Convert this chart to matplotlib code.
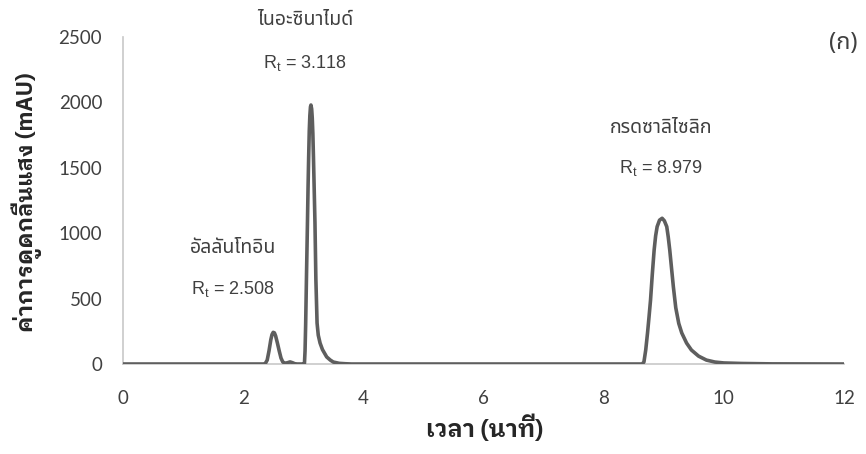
import matplotlib
matplotlib.use("Agg")
import matplotlib.pyplot as plt

# ---- data ----
time_min = [0.00, 2.35, 2.37, 2.40, 2.43, 2.46, 2.48, 2.50, 2.52, 2.54, 2.57, 2.60,
            2.63, 2.66, 2.70, 2.74, 2.78, 2.82, 2.86, 2.90,
            3.00, 3.02, 3.03, 3.04, 3.055, 3.07, 3.08, 3.09, 3.10, 3.11, 3.12, 3.128,
            3.14, 3.15, 3.16, 3.17, 3.18, 3.195, 3.21, 3.23, 3.25, 3.28, 3.32, 3.39,
            3.45, 3.50, 3.60, 3.70, 3.80,
            8.60, 8.64, 8.67, 8.70, 8.73, 8.755, 8.78, 8.81, 8.84, 8.865, 8.89, 8.93,
            8.973, 9.01, 9.05, 9.075, 9.10, 9.13, 9.16, 9.20, 9.25, 9.30, 9.38, 9.46,
            9.58, 9.71, 9.85, 10.00, 10.30, 10.80, 12.00]
absorb_mAU = [0, 0, 5, 30, 100, 185, 225, 242, 238, 215, 160, 100,
              45, 15, 6, 10, 16, 10, 2, 0,
              0, 5, 100, 300, 700, 1080, 1350, 1580, 1780, 1900, 1965, 1980,
              1950, 1880, 1760, 1580, 1380, 1080, 650, 313, 220, 160, 110, 54,
              30, 15, 5, 2, 0,
              0, 0, 15, 107, 237, 360, 489, 690, 871, 980, 1050, 1100,
              1114, 1095, 1050, 970, 871, 730, 590, 430, 310, 237, 160, 107,
              60, 30, 15, 8, 4, 1, 0]

compounds = ["อัลลันโทอิน", "ไนอะซินาไมด์", "กรดซาลิไซลิก"]
rt_values = ["2.508", "3.118", "8.979"]
label_x = [1.83, 3.03, 8.95]
label_y = [890, 2630, 1805]
rt_y = [575, 2300, 1500]

x_ticks = [0, 2, 4, 6, 8, 10, 12]
y_ticks = [0, 500, 1000, 1500, 2000, 2500]
x_title = "เวลา (นาที)"
y_title = "ค่าการดูดกลืนแสง (mAU)"
panel_label = "(ก)"

plt.rcParams['mathtext.fontset'] = 'custom'
plt.rcParams['mathtext.rm'] = 'Liberation Sans'

thai_loopless = ['Noto Sans Thai', 'Liberation Sans', 'DejaVu Sans']
thai_looped = ['IBM Plex Sans Thai Looped', 'Sarabun', 'DejaVu Sans']
tick_font = ['Lato', 'DejaVu Sans']

W, H = 866, 454
fig = plt.figure(figsize=(W / 100, H / 100), dpi=100)
ax = fig.add_axes([123 / W, 1 - 364 / H, (844 - 123) / W, (364 - 37) / H])

ax.plot(time_min, absorb_mAU, color='#5e5e5e', lw=2.6, solid_joinstyle='round',
        solid_capstyle='round', zorder=3)

ax.set_xlim(0, 12)
ax.set_ylim(0, 2500)
ax.set_xticks(x_ticks)
ax.set_yticks(y_ticks)
ax.set_xticklabels([str(v) for v in x_ticks], family=tick_font, fontsize=13.5, color='#404040')
ax.set_yticklabels([str(v) for v in y_ticks], family=tick_font, fontsize=13.5, color='#404040')
ax.tick_params(axis='both', length=0)
ax.tick_params(axis='x', pad=19)
ax.tick_params(axis='y', pad=15)

for s in ['top', 'right']:
    ax.spines[s].set_visible(False)
for s in ['left', 'bottom']:
    ax.spines[s].set_color('#c8c8c8')
    ax.spines[s].set_linewidth(1.2)

fig.text(485 / W, 1 - 428 / H, x_title, ha='center', va='center', family=thai_looped,
         fontweight='bold', fontsize=17, color='#262626')
fig.text(27 / W, 1 - 202 / H, y_title, ha='center', va='center', rotation=90,
         family=thai_looped, fontweight='bold', fontsize=16, color='#262626')

for name, rt, lx, ly, ry in zip(compounds, rt_values, label_x, label_y, rt_y):
    ax.text(lx, ly, name, ha='center', va='center', family=thai_loopless,
            fontsize=14, color='#404040', clip_on=False)
    ax.text(lx, ry, r'R$_{\rm t}$ = ' + rt, ha='center', va='center',
            family=['Liberation Sans Narrow', 'Liberation Sans'],
            fontsize=13, color='#404040', clip_on=False)

fig.text(843 / W, 1 - 43 / H, panel_label, ha='center', va='center',
         family=thai_loopless, fontsize=17, color='#404040')

fig.savefig("out.png", dpi=100)
